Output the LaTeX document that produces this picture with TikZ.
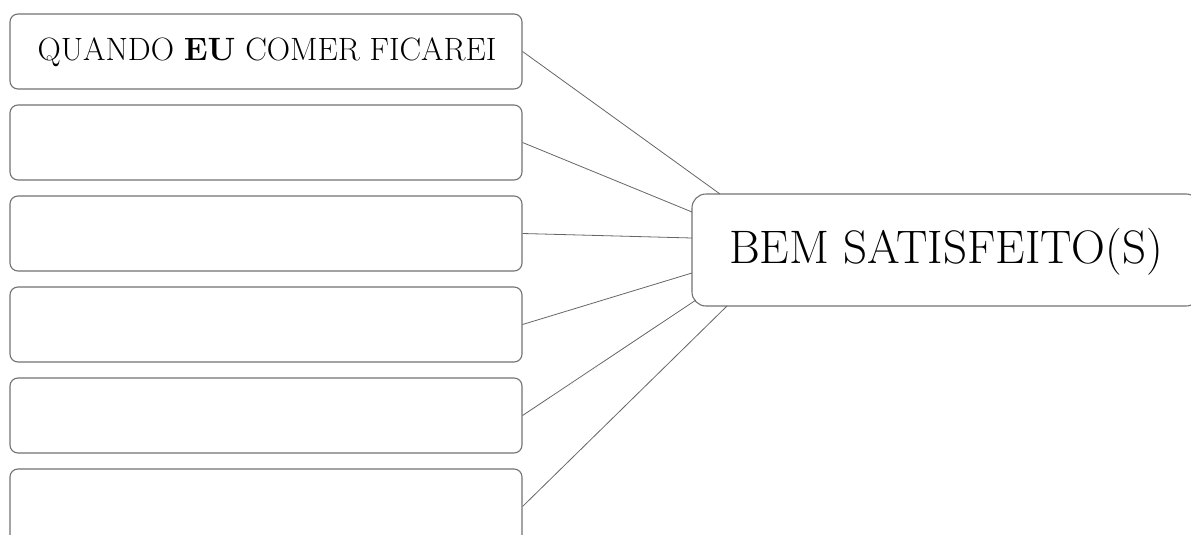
\documentclass[tikz,border=0pt]{standalone}
\usetikzlibrary{calc}
\begin{document}
\begin{tikzpicture}[x=1pt,y=1pt,
  lbox/.style={draw=black!55, line width=1.1pt, rounded corners=8pt, minimum width=512pt, minimum height=75pt, inner sep=0pt, fill=white},
  rbox/.style={draw=black!55, line width=1.1pt, rounded corners=14pt, minimum width=508pt, minimum height=112pt, inner sep=0pt, fill=white},
  link/.style={draw=black!60, line width=0.8pt}]
\clip (0,0) rectangle (1191,-535);
\fill[white] (0,0) rectangle (1191,-535);
\node[rbox] (R) at (946,-250) {};
\node at (946,-252) {\fontsize{47}{54}\selectfont BEM SATISFEITO(S)};
\foreach \i in {1,...,6} {
  \node[lbox] (L\i) at (266,{-51.5-91*(\i-1)}) {};
}
\node at (267,-52) {\fontsize{32.3}{38}\selectfont QUANDO \textbf{EU} COMER FICAREI};
\coordinate (e1) at (720,-194);
\coordinate (e2) at (692,-212);
\coordinate (e3) at (692,-238);
\coordinate (e4) at (692,-273);
\coordinate (e5) at (696,-300);
\coordinate (e6) at (727,-306);
\foreach \i in {1,...,6} {
  \draw[link] (L\i.east) -- (e\i);
}
\end{tikzpicture}
\end{document}
